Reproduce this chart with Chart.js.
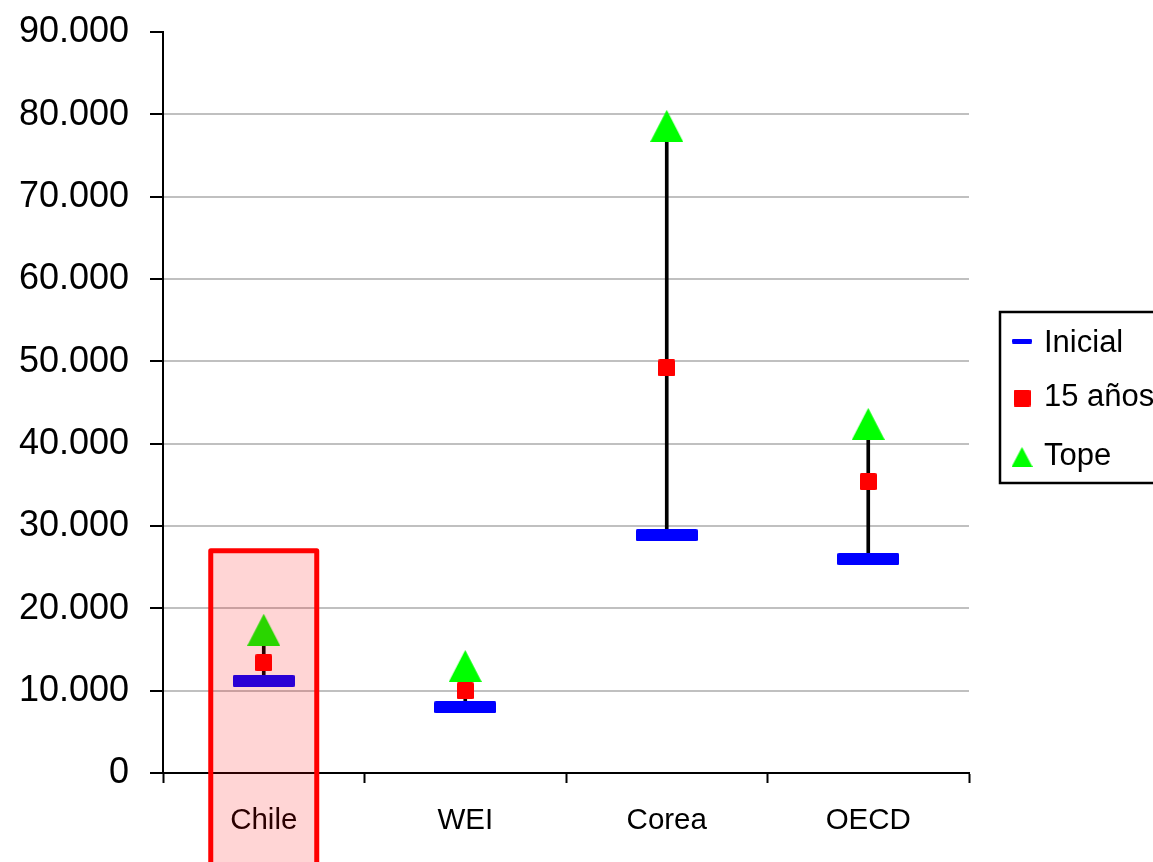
<!DOCTYPE html>
<html><head><meta charset="utf-8">
<script src="https://cdn.jsdelivr.net/npm/chart.js@4"></script>
<style>html,body{margin:0;padding:0;background:#fff;overflow:hidden}#wrap{width:1153px;height:862px;position:relative}</style>
</head><body><div id="wrap"><canvas id="c" width="1153" height="862"></canvas></div>
<script>
// ---- data ----
const categories = ['Chile', 'WEI', 'Corea', 'OECD'];
const inicial = [11200, 8000, 28900, 26000];
const quince = [13400, 10000, 49200, 35400];
const tope = [17400, 13000, 78600, 42400];
const seriesLabels = ['Inicial', '15 años', 'Tope'];
const yMin = 0, yMax = 90000, yStep = 10000;
const highlightCategory = 'Chile';
const highlightTop = 27000;

// ---- styles ----
const FONT = "'Liberation Sans', Arial, sans-serif";
Chart.defaults.font.family = FONT;
Chart.defaults.color = '#000';

function makeMarker(w, h, draw) {
  const c = document.createElement('canvas');
  c.width = w; c.height = h;
  draw(c.getContext('2d'), w, h);
  return c;
}
function rrect(g, x, y, w, h, r) {
  g.beginPath();
  g.moveTo(x + r, y); g.lineTo(x + w - r, y); g.quadraticCurveTo(x + w, y, x + w, y + r);
  g.lineTo(x + w, y + h - r); g.quadraticCurveTo(x + w, y + h, x + w - r, y + h);
  g.lineTo(x + r, y + h); g.quadraticCurveTo(x, y + h, x, y + h - r);
  g.lineTo(x, y + r); g.quadraticCurveTo(x, y, x + r, y); g.closePath();
}
const dashMarker = (w, h) => makeMarker(w, h, (g, W, H) => { g.fillStyle = '#0000ff'; rrect(g, 0, 0, W, H, 1.5); g.fill(); });
const squareMarker = (s) => makeMarker(s, s, (g, W, H) => { g.fillStyle = '#ff0000'; rrect(g, 0, 0, W, H, 1.5); g.fill(); });
const triMarker = (w, h) => makeMarker(w, h, (g, W, H) => {
  g.fillStyle = '#00ff00'; g.beginPath(); g.moveTo(W / 2, 0); g.lineTo(W, H); g.lineTo(0, H); g.closePath(); g.fill();
});

const markers = {
  inicial: dashMarker(62, 12),
  quince: squareMarker(17),
  tope: triMarker(33, 32)
};
const legendMarkers = [dashMarker(20, 5), squareMarker(17), triMarker(21, 20)];

const fmt = v => String(v).replace(/\B(?=(\d{3})+(?!\d))/g, '.');

const highlightPlugin = {
  id: 'highlight',
  afterDraw(chart) {
    const xs = chart.scales.x, ys = chart.scales.y, ctx = chart.ctx;
    const i = categories.indexOf(highlightCategory);
    const cx = xs.getPixelForValue(i);
    const half = (xs.width / categories.length) * 0.263;
    const top = ys.getPixelForValue(highlightTop);
    const bottom = chart.height + 10;
    ctx.save();
    ctx.fillStyle = 'rgba(255,0,0,0.165)';
    ctx.fillRect(cx - half, top, half * 2, bottom - top);
    ctx.strokeStyle = '#ff0000';
    ctx.lineWidth = 5;
    ctx.lineJoin = 'round';
    ctx.strokeRect(cx - half, top, half * 2, bottom - top);
    ctx.restore();
  }
};

const legendPlugin = {
  id: 'boxLegend',
  afterDraw(chart) {
    const ctx = chart.ctx;
    const left = chart.chartArea.right + 31;
    const top = 312, height = 171;
    ctx.save();
    ctx.strokeStyle = '#000';
    ctx.lineWidth = 2.5;
    ctx.strokeRect(left, top, 220, height);
    const rows = [
      { sy: 341, ty: 343 },
      { sy: 398, ty: 397 },
      { sy: 457, ty: 456 }
    ];
    ctx.font = '31px ' + FONT;
    ctx.fillStyle = '#000';
    ctx.textBaseline = 'middle';
    ctx.textAlign = 'left';
    seriesLabels.forEach((lab, k) => {
      const m = legendMarkers[k];
      ctx.drawImage(m, left + 22 - m.width / 2, rows[k].sy - m.height / 2);
      ctx.fillText(lab, left + 44, rows[k].ty);
    });
    ctx.restore();
  }
};

new Chart(document.getElementById('c'), {
  type: 'bar',
  data: {
    labels: categories,
    datasets: [
      { type: 'line', label: seriesLabels[2], data: tope, showLine: false, pointStyle: markers.tope, pointRadius: 16, order: 0 },
      { type: 'line', label: seriesLabels[1], data: quince, showLine: false, pointStyle: markers.quince, pointRadius: 9, order: 1 },
      { type: 'line', label: seriesLabels[0], data: inicial, showLine: false, pointStyle: markers.inicial, pointRadius: 31, order: 2 },
      { type: 'bar', label: 'range', data: inicial.map((v, i) => [v, tope[i]]), backgroundColor: '#000', borderWidth: 0, barThickness: 3, order: 3 }
    ]
  },
  options: {
    responsive: false,
    animation: false,
    events: [],
    layout: { padding: { top: 28, right: 184, left: 0, bottom: 0 } },
    plugins: { legend: { display: false }, tooltip: { enabled: false } },
    scales: {
      x: {
        offset: true,
        grid: { offset: true, drawOnChartArea: false, drawTicks: true, tickLength: 10, tickColor: '#000', tickWidth: 2 },
        border: { color: '#000', width: 2 },
        ticks: { color: '#000', font: { size: 29.5 }, padding: 20, maxRotation: 0, autoSkip: false },
        afterFit(s) { s.height = 89; }
      },
      y: {
        min: yMin, max: yMax,
        ticks: { stepSize: yStep, color: '#000', font: { size: 36, lineHeight: 0.15 }, padding: 21, labelOffset: 0.5, callback: v => fmt(v) },
        grid: {
          color: c => (c.tick && c.tick.value === yMax) ? 'rgba(0,0,0,0)' : '#c0c0c0',
          lineWidth: 2, tickLength: 13, tickColor: '#000', tickWidth: 2
        },
        border: { color: '#000', width: 2 },
        afterFit(s) { s.width = 163; s.paddingTop = 0; s.paddingBottom = 0; }
      }
    }
  },
  plugins: [highlightPlugin, legendPlugin]
});
</script>
</body></html>
